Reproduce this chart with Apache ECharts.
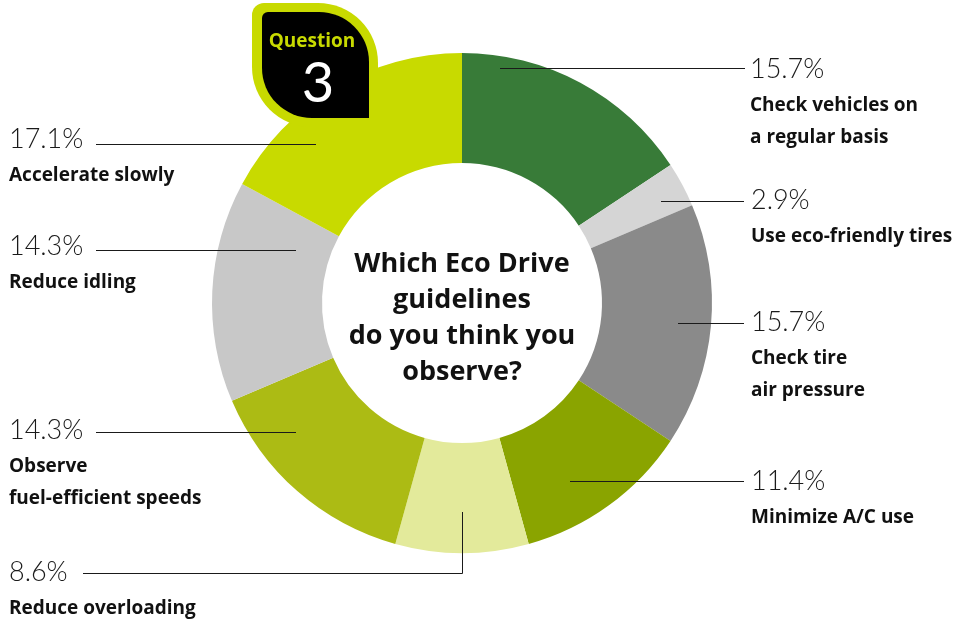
<!DOCTYPE html>
<html>
<head>
<meta charset="utf-8">
<script src="https://cdn.jsdelivr.net/npm/echarts@6/dist/echarts.min.js"></script>
<style>
html,body{margin:0;padding:0;background:#fff;}
#chart{width:959px;height:624px;}
</style>
</head>
<body>
<div id="chart"></div>
<script>
const categories = ['Check vehicles on\na regular basis', 'Use eco-friendly tires', 'Check tire\nair pressure', 'Minimize A/C use', 'Reduce overloading', 'Observe\nfuel-efficient speeds', 'Reduce idling', 'Accelerate slowly'];
const values = [15.7, 2.9, 15.7, 11.4, 8.6, 14.3, 14.3, 17.1];
const colors = ['#387b38', '#d5d5d5', '#8a8a8a', '#8aa400', '#e3ea9b', '#acbb14', '#c8c8c8', '#c8da00'];
const centerTitle = 'Which Eco Drive\nguidelines\ndo you think you\nobserve?';

// label placement (layout only)
const labelSpots = [
  {tx: 750, ty: 69,  line: [[500, 68.5], [745, 68.5]]},
  {tx: 751, ty: 200, line: [[661, 201.5], [744, 201.5]]},
  {tx: 751, ty: 322, line: [[678, 323.5], [744, 323.5]]},
  {tx: 751, ty: 481, line: [[570, 481.5], [744, 481.5]]},
  {tx: 9,   ty: 572, line: [[462.5, 512], [462.5, 573.5], [83, 573.5]]},
  {tx: 9,   ty: 430, line: [[296, 432.5], [96, 432.5]]},
  {tx: 9,   ty: 246, line: [[296, 250.5], [96, 250.5]]},
  {tx: 9,   ty: 139, line: [[316, 144.5], [96, 144.5]]}
];

const chart = echarts.init(document.getElementById('chart'), null, {renderer: 'canvas'});
const FONT = 'Lato, "Noto Sans", sans-serif';
const BOLD = '"Open Sans", Lato, sans-serif';

const pieData = categories.map((c, i) => ({name: c, value: values[i], itemStyle: {color: colors[i]}}));

chart.setOption({
  backgroundColor: '#ffffff',
  animation: false,
  series: [{
    type: 'pie',
    z: 2,
    center: [462, 303],
    radius: [140, 250],
    startAngle: 90,
    clockwise: true,
    silent: true,
    itemStyle: {borderWidth: 0},
    label: {show: false},
    labelLine: {show: false},
    data: pieData
  }, {
    type: 'pie',
    z: 5,
    center: [462, 303],
    radius: [140, 250],
    startAngle: 90,
    clockwise: true,
    silent: true,
    avoidLabelOverlap: false,
    itemStyle: {color: 'rgba(0,0,0,0)', borderWidth: 0},
    data: categories.map((c, i) => ({name: c, value: values[i]})),
    label: {
      show: true,
      position: 'outside',
      formatter: p => '{p|' + p.value.toFixed(1) + '%}\n' + p.name.split('\n').map(s => '{n|' + s + '}').join('\n'),
      rich: {
        p: {fontFamily: FONT, fontWeight: 300, fontSize: 27, lineHeight: 42, color: '#1a1a1a'},
        n: {fontFamily: BOLD, fontWeight: 'bold', fontSize: 19, lineHeight: 32, color: '#111'}
      }
    },
    labelLine: {show: true, lineStyle: {color: '#1a1a1a', width: 1}},
    labelLayout: function (params) {
      const s = labelSpots[params.dataIndex];
      return {x: s.tx, y: s.ty - 21, align: 'left', verticalAlign: 'top', labelLinePoints: s.line};
    }
  }],
  graphic: [
    {type: 'rect', z: 100, shape: {x: 252, y: 3, width: 126, height: 124, r: [12, 60, 0, 60]}, style: {fill: '#c8da00'}},
    {type: 'rect', z: 101, shape: {x: 262, y: 12, width: 107, height: 106, r: [6, 50, 0, 50]}, style: {fill: '#000'}},
    {type: 'text', z: 102, x: 312, y: 42, style: {text: 'Question', fill: '#c8da00', font: 'bold 19px ' + BOLD, textAlign: 'center', textVerticalAlign: 'middle'}},
    {type: 'text', z: 102, x: 318, y: 84, style: {text: '3', fill: '#fff', font: '56px ' + FONT, textAlign: 'center', textVerticalAlign: 'middle'}},
    {type: 'text', z: 102, x: 462, y: 318, style: {text: centerTitle, fill: '#111', font: 'bold 27px ' + BOLD, lineHeight: 36, textAlign: 'center', textVerticalAlign: 'middle'}}
  ]
});
</script>
</body>
</html>
